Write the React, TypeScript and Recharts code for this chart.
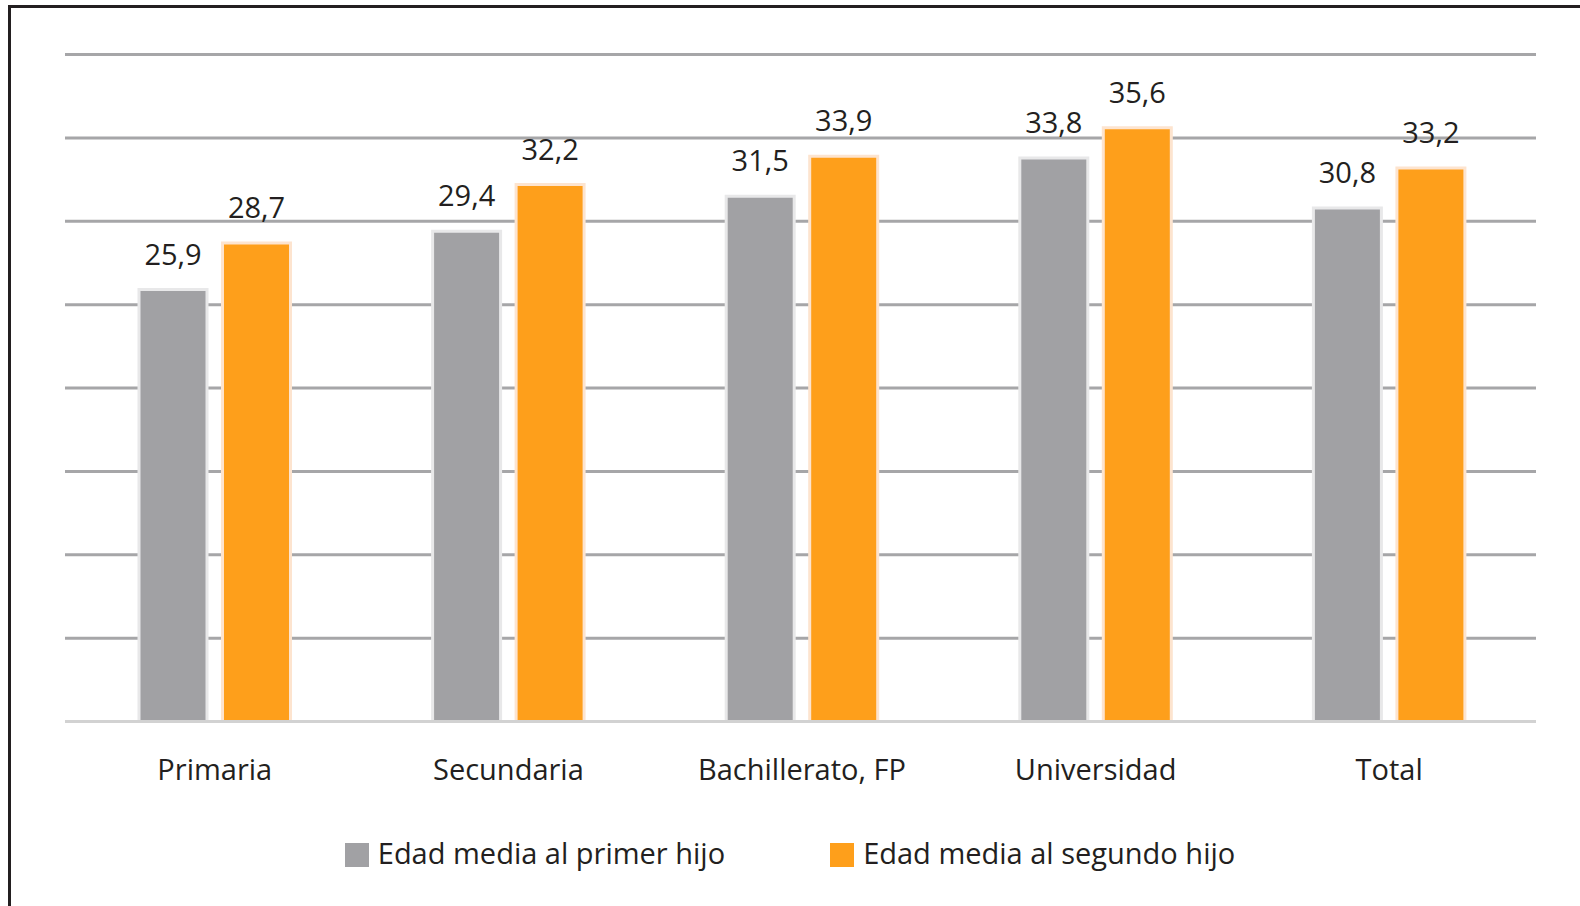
import React from "react";
import { BarChart, Bar, XAxis, YAxis, CartesianGrid, Legend, LabelList } from "recharts";

const categories = ["Primaria", "Secundaria", "Bachillerato, FP", "Universidad", "Total"];
const primerHijo = [25.9, 29.4, 31.5, 33.8, 30.8];
const segundoHijo = [28.7, 32.2, 33.9, 35.6, 33.2];
const yTicks = [0, 5, 10, 15, 20, 25, 30, 35, 40];

const data = categories.map((c, i) => ({
  name: c,
  primer: primerHijo[i],
  segundo: segundoHijo[i],
}));

const FONT = "'Open Sans', sans-serif";
const TEXT = "#231f20";
const GRAY = "#a1a1a4";
const ORANGE = "#fe9f1b";

const fmt = (v: number) => v.toFixed(1).replace(".", ",");

const ValueLabel = (props: any) => {
  const { x, y, width, value } = props;
  return (
    <text x={x + width / 2} y={y - 25} textAnchor="middle" fill={TEXT} fontSize={29} fontFamily={FONT}>
      {fmt(value)}
    </text>
  );
};

const CatTick = (props: any) => {
  const { x, y, payload } = props;
  return (
    <text x={x} y={y + 58} textAnchor="middle" fill={TEXT} fontSize={29} fontFamily={FONT}>
      {payload.value}
    </text>
  );
};

const LegendContent = () => {
  const items = [
    { label: "Edad media al primer hijo", color: GRAY },
    { label: "Edad media al segundo hijo", color: ORANGE },
  ];
  return (
    <div style={{ display: "flex", justifyContent: "center", gap: 105, fontFamily: FONT, fontSize: 29, lineHeight: "29px", color: TEXT }}>
      {items.map((it) => (
        <div key={it.label} style={{ display: "flex", alignItems: "flex-start" }}>
          <span style={{ width: 24, height: 24, marginTop: 5, marginRight: 9, background: it.color, display: "inline-block" }} />
          <span>{it.label}</span>
        </div>
      ))}
    </div>
  );
};

export default function App() {
  return (
    <div style={{ position: "absolute", left: 0, top: 0, width: 1580, height: 906, background: "#fff", overflow: "hidden" }}>
      <div
        style={{
          position: "absolute", left: 8, top: 5, width: 1580, height: 910,
          borderLeft: "3px solid #231f20", borderTop: "3px solid #231f20",
        }}
      />
      <div style={{ position: "absolute", left: 0, top: 0 }}>
        <BarChart
          width={1580}
          height={906}
          data={data}
          margin={{ top: 54.5, right: 44, left: 65, bottom: 154.5 }}
          barGap={15.5}
          barSize={68}
        >
          <CartesianGrid vertical={false} stroke="#a6a6a8" strokeWidth={3} />
          <YAxis hide width={0} domain={[0, 40]} ticks={yTicks} />
          <XAxis
            dataKey="name"
            height={30}
            padding={{ left: 3, right: 0 }}
            axisLine={{ stroke: "#d2d2d2", strokeWidth: 3 }}
            tickLine={false}
            tickSize={0}
            tickMargin={0}
            tick={<CatTick />}
            interval={0}
          />
          <Legend
            verticalAlign="middle"
            align="center"
            layout="horizontal"
            wrapperStyle={{ top: 838, left: 0, width: 1580 }}
            content={<LegendContent />}
          />
          <Bar dataKey="primer" name="Edad media al primer hijo" fill={GRAY} stroke="#e8e8e9" strokeWidth={3} isAnimationActive={false}>
            <LabelList dataKey="primer" content={<ValueLabel />} />
          </Bar>
          <Bar dataKey="segundo" name="Edad media al segundo hijo" fill={ORANGE} stroke="#fde4cf" strokeWidth={3} isAnimationActive={false}>
            <LabelList dataKey="segundo" content={<ValueLabel />} />
          </Bar>
        </BarChart>
      </div>
    </div>
  );
}
